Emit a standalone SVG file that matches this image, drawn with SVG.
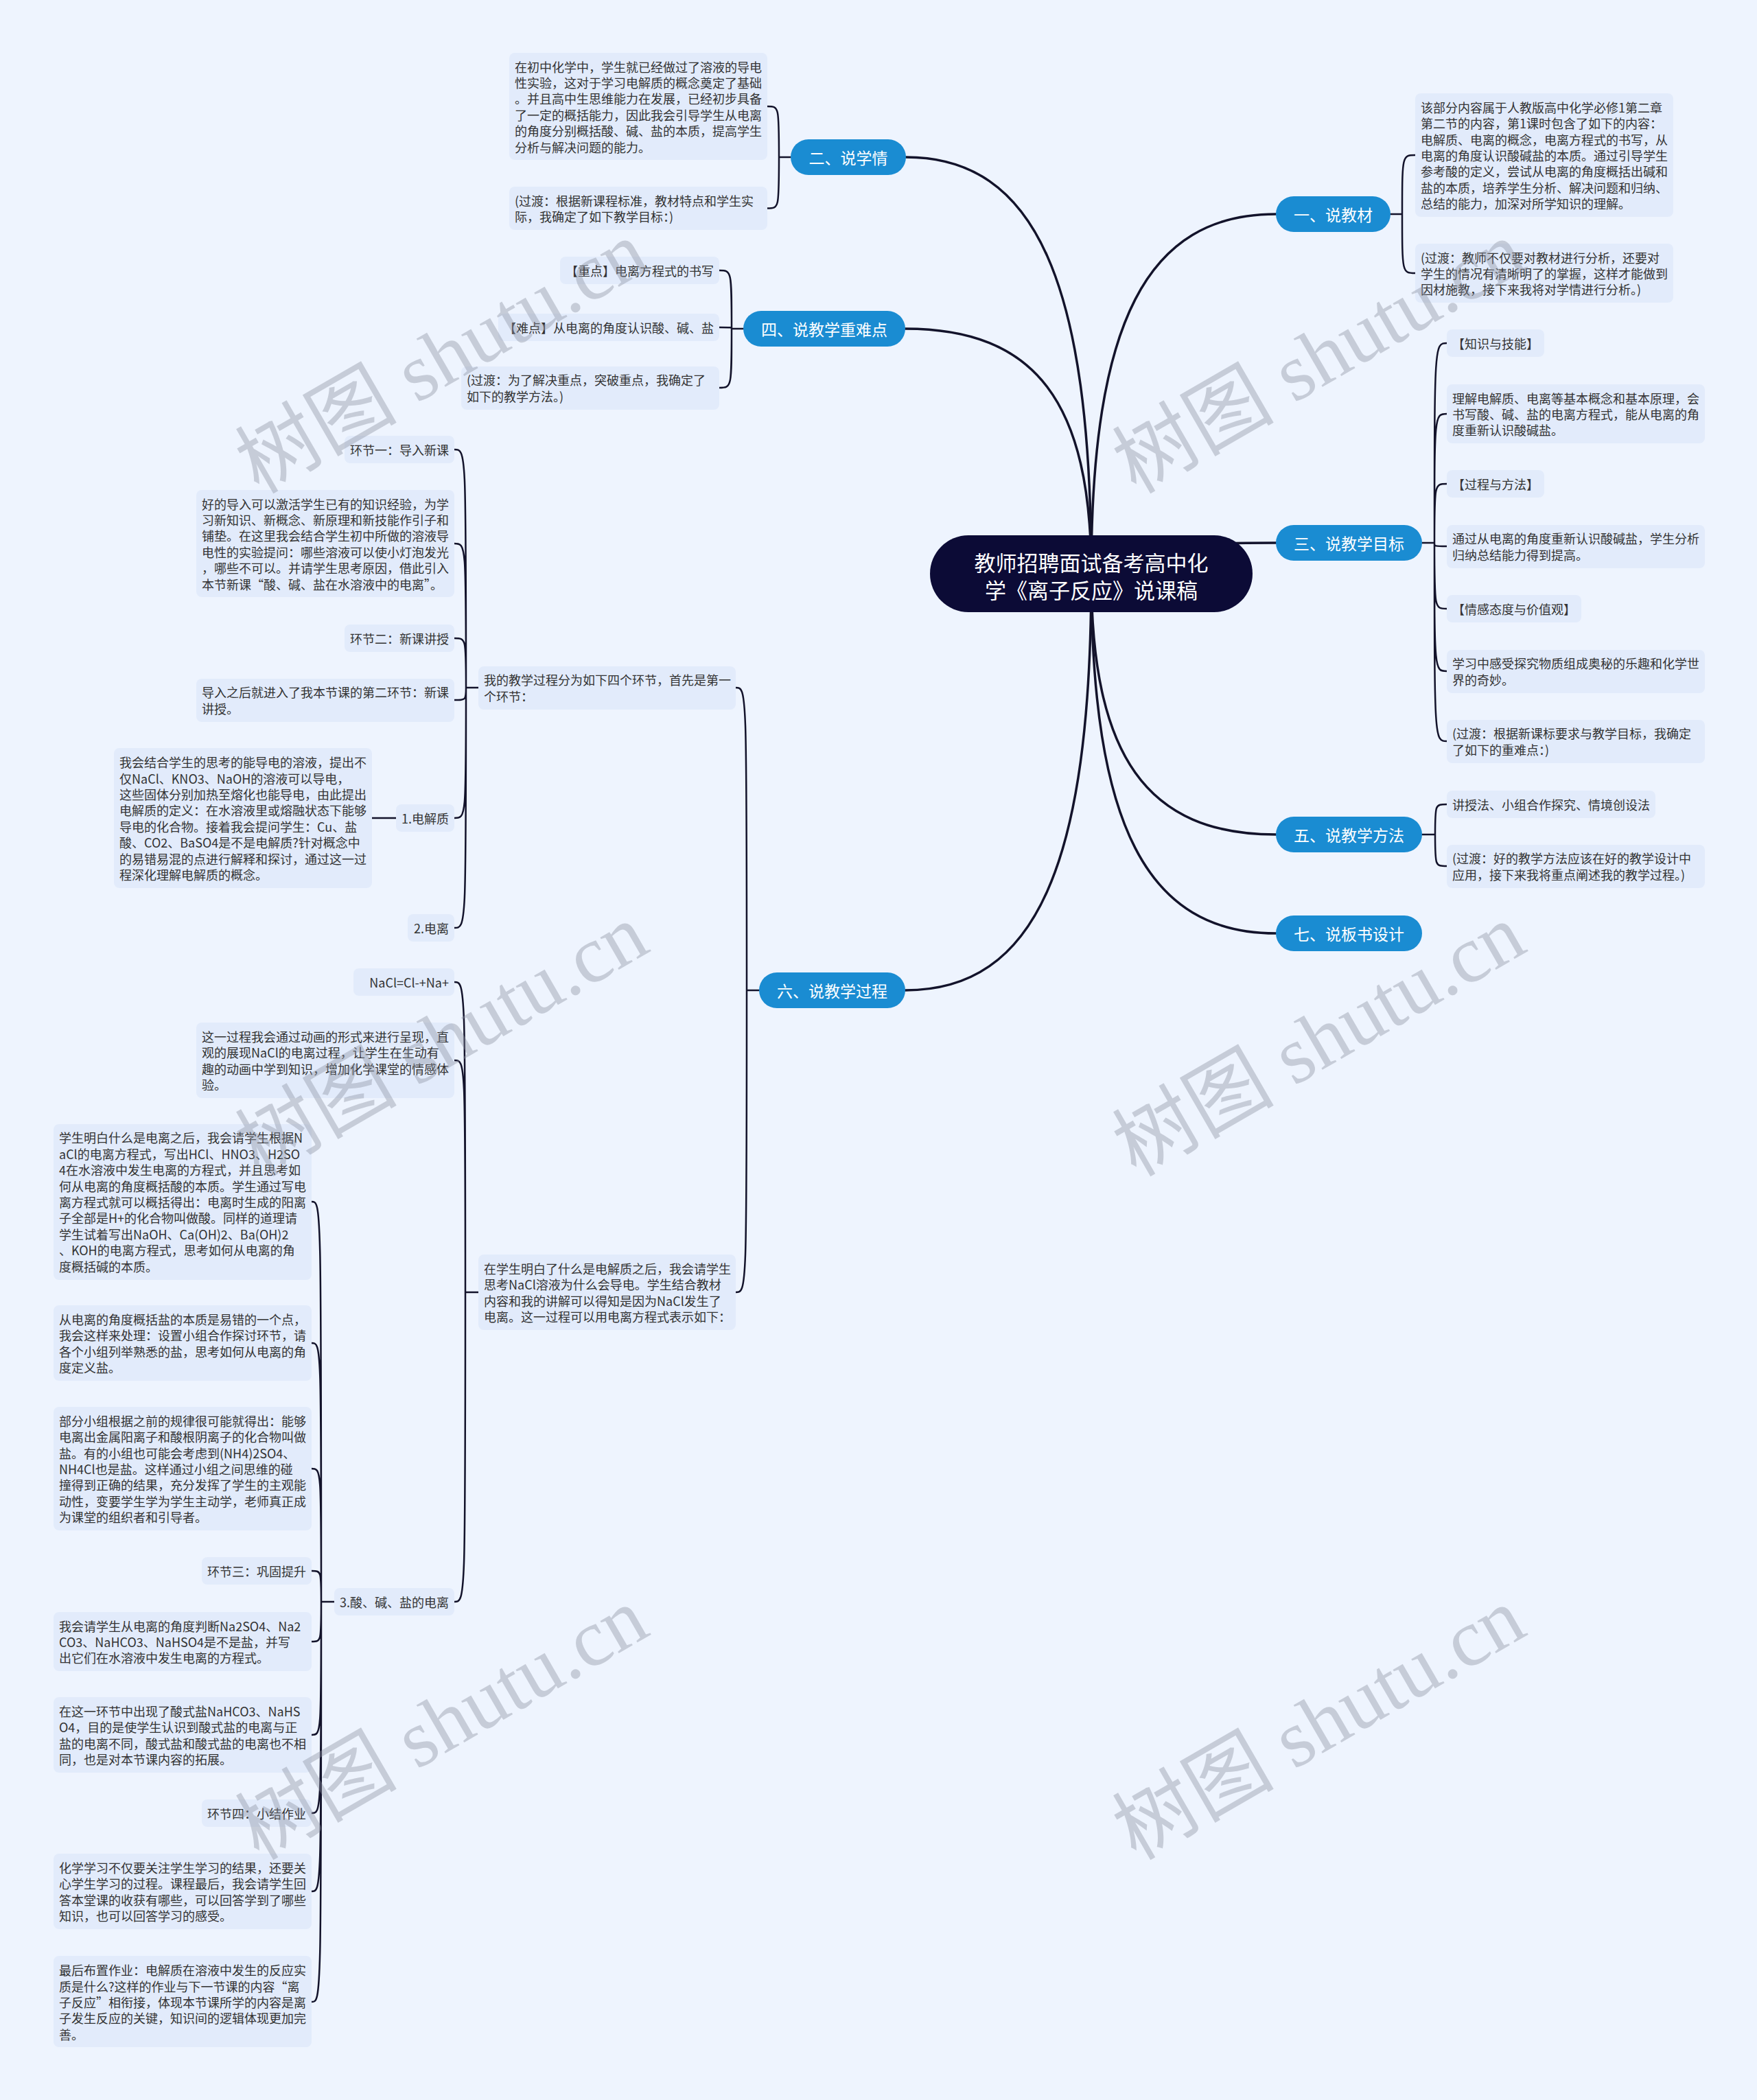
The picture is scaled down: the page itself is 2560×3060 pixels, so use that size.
<svg xmlns="http://www.w3.org/2000/svg" width="2560" height="3060" viewBox="0 0 2560 3060">
<style>
.bg{fill:#eef4fe}
.box{fill:#e2ebfb}
.t{font-family:"Noto Sans CJK SC","Noto Sans",sans-serif;font-size:18px;fill:#333333;dominant-baseline:central}
.e{text-anchor:end}
.pill{fill:#1a8cd2}
.pt{font-family:"Noto Sans CJK SC","Noto Sans",sans-serif;font-size:23px;fill:#ffffff;text-anchor:middle;dominant-baseline:central}
.root{fill:#0c0b36}
.rt{font-family:"Noto Sans CJK SC","Noto Sans",sans-serif;font-size:31px;fill:#ffffff;text-anchor:middle;dominant-baseline:central}
.cr{fill:none;stroke:#13132b;stroke-width:3.5;stroke-linecap:round}
.c{fill:none;stroke:#13132b;stroke-width:2.5;stroke-linecap:round}
.wm{font-family:"Liberation Serif","Noto Sans CJK SC",serif;font-size:118px;fill:#8d93a2;opacity:0.4;text-anchor:middle;dominant-baseline:central}
</style>
<rect class="bg" x="0" y="0" width="2560" height="3060"/>

<g id="connectors">
<path class="cr" d="M1590 836 C1590 469 1671 312 1859 312"/>
<path class="cr" d="M1590 836 C1590 804 1671 791 1859 791"/>
<path class="cr" d="M1590 836 C1590 1102 1671 1216 1859 1216"/>
<path class="cr" d="M1590 836 C1590 1203 1671 1360 1859 1360"/>
<path class="cr" d="M1590 836 C1590 411 1509 229 1320 229"/>
<path class="cr" d="M1590 836 C1590 586 1509 479 1319 479"/>
<path class="cr" d="M1590 836 C1590 1261 1509 1443 1319 1443"/>

<path class="c" d="M2026 312 L2043 312 M2043 312 C2043 226 2043 226 2062 226 M2043 312 C2043 398 2043 398 2062 398"/>
<path class="c" d="M2072 791 L2090 791 M2090 791 C2090 500 2090 500 2108 500 M2090 791 C2090 603 2090 603 2108 603 M2090 791 C2090 705 2090 705 2108 705 M2090 791 C2090 796 2090 796 2108 796 M2090 791 C2090 887 2090 887 2108 887 M2090 791 C2090 978 2090 978 2108 978 M2090 791 C2090 1080 2090 1080 2108 1080"/>
<path class="c" d="M2072 1216 L2091 1216 M2091 1216 C2091 1172 2091 1172 2108 1172 M2091 1216 C2091 1262 2091 1262 2108 1262"/>
<path class="c" d="M1152 229 L1135 229 M1135 229 C1135 155 1135 155 1118 155 M1135 229 C1135 303.5 1135 303.5 1118 303.5"/>
<path class="c" d="M1083 479 L1066 479 M1066 479 C1066 394 1066 394 1048 394 M1066 479 C1066 477 1066 477 1048 477 M1066 479 C1066 565 1066 565 1048 565"/>
<path class="c" d="M1106 1443 L1088 1443 M1088 1443 C1088 1002 1088 1002 1072 1002 M1088 1443 C1088 1883 1088 1883 1072 1883"/>
<path class="c" d="M697 1002 L679 1002 M679 1002 C679 655 679 655 662 655 M679 1002 C679 792 679 792 662 792 M679 1002 C679 930 679 930 662 930 M679 1002 C679 1020 679 1020 662 1020 M679 1002 C679 1192 679 1192 662 1192 M679 1002 C679 1352 679 1352 662 1352"/>
<path class="c" d="M577 1192 L542 1192"/>
<path class="c" d="M697 1883 L678 1883 M678 1883 C678 1431 678 1431 662 1431 M678 1883 C678 1545 678 1545 662 1545 M678 1883 C678 2334 678 2334 662 2334"/>
<path class="c" d="M487 2334 L468 2334 M468 2334 C468 1751 468 1751 454 1751 M468 2334 C468 1957 468 1957 454 1957 M468 2334 C468 2140 468 2140 454 2140 M468 2334 C468 2289 468 2289 454 2289 M468 2334 C468 2392 468 2392 454 2392 M468 2334 C468 2528 468 2528 454 2528 M468 2334 C468 2642 468 2642 454 2642 M468 2334 C468 2756 468 2756 454 2756 M468 2334 C468 2917 468 2917 454 2917"/>
</g>

<g id="root">
<rect class="root" x="1355" y="780" width="470" height="112" rx="56"/>
<text class="rt" x="1590"><tspan x="1590" y="818">教师招聘面试备考高中化</tspan><tspan x="1590" y="858">学《离子反应》说课稿</tspan></text>
</g>

<g id="b1"><rect class="pill" x="1859" y="286" width="167" height="52" rx="26"/><text class="pt" x="1942.5" y="312">一、说教材</text></g>
<g id="b3"><rect class="pill" x="1859" y="765" width="213" height="52" rx="26"/><text class="pt" x="1965.5" y="791">三、说教学目标</text></g>
<g id="b5"><rect class="pill" x="1859" y="1190" width="213" height="52" rx="26"/><text class="pt" x="1965.5" y="1216">五、说教学方法</text></g>
<g id="b7"><rect class="pill" x="1859" y="1334" width="213" height="52" rx="26"/><text class="pt" x="1965.5" y="1360">七、说板书设计</text></g>
<g id="b2"><rect class="pill" x="1152" y="203" width="168" height="52" rx="26"/><text class="pt" x="1236" y="229">二、说学情</text></g>
<g id="b4"><rect class="pill" x="1083" y="453" width="236" height="52" rx="26"/><text class="pt" x="1201" y="479">四、说教学重难点</text></g>
<g id="b6"><rect class="pill" x="1106" y="1417" width="213" height="52" rx="26"/><text class="pt" x="1212.5" y="1443">六、说教学过程</text></g>

<g id="n1a"><rect class="box" x="2062" y="136" width="376" height="180" rx="8"/>
<text class="t"><tspan x="2070" y="155.8">该部分内容属于人教版高中化学必修1第二章</tspan><tspan x="2070" y="179.2">第二节的内容，第1课时包含了如下的内容：</tspan><tspan x="2070" y="202.6">电解质、电离的概念，电离方程式的书写，从</tspan><tspan x="2070" y="226">电离的角度认识酸碱盐的本质。通过引导学生</tspan><tspan x="2070" y="249.4">参考酸的定义，尝试从电离的角度概括出碱和</tspan><tspan x="2070" y="272.8">盐的本质，培养学生分析、解决问题和归纳、</tspan><tspan x="2070" y="296.2">总结的能力，加深对所学知识的理解。</tspan></text></g>
<g id="n1b"><rect class="box" x="2062" y="355" width="376" height="86" rx="8"/>
<text class="t"><tspan x="2070" y="374.6">(过渡：教师不仅要对教材进行分析，还要对</tspan><tspan x="2070" y="398">学生的情况有清晰明了的掌握，这样才能做到</tspan><tspan x="2070" y="421.4">因材施教，接下来我将对学情进行分析。)</tspan></text></g>

<g id="n3a"><rect class="box" x="2108" y="480" width="142" height="40" rx="8"/><text class="t" x="2116" y="500">【知识与技能】</text></g>
<g id="n3b"><rect class="box" x="2108" y="560" width="376" height="86" rx="8"/>
<text class="t"><tspan x="2116" y="579.6">理解电解质、电离等基本概念和基本原理，会</tspan><tspan x="2116" y="603">书写酸、碱、盐的电离方程式，能从电离的角</tspan><tspan x="2116" y="626.4">度重新认识酸碱盐。</tspan></text></g>
<g id="n3c"><rect class="box" x="2108" y="685" width="142" height="40" rx="8"/><text class="t" x="2116" y="705">【过程与方法】</text></g>
<g id="n3d"><rect class="box" x="2108" y="765" width="376" height="63" rx="8"/>
<text class="t"><tspan x="2116" y="784.3">通过从电离的角度重新认识酸碱盐，学生分析</tspan><tspan x="2116" y="807.7">归纳总结能力得到提高。</tspan></text></g>
<g id="n3e"><rect class="box" x="2108" y="867" width="196" height="40" rx="8"/><text class="t" x="2116" y="887">【情感态度与价值观】</text></g>
<g id="n3f"><rect class="box" x="2108" y="947" width="376" height="63" rx="8"/>
<text class="t"><tspan x="2116" y="966.3">学习中感受探究物质组成奥秘的乐趣和化学世</tspan><tspan x="2116" y="989.7">界的奇妙。</tspan></text></g>
<g id="n3g"><rect class="box" x="2108" y="1049" width="376" height="63" rx="8"/>
<text class="t"><tspan x="2116" y="1068.3">(过渡：根据新课标要求与教学目标，我确定</tspan><tspan x="2116" y="1091.7">了如下的重难点：)</tspan></text></g>

<g id="n5a"><rect class="box" x="2108" y="1152" width="304" height="40" rx="8"/><text class="t" x="2116" y="1172">讲授法、小组合作探究、情境创设法</text></g>
<g id="n5b"><rect class="box" x="2108" y="1231" width="376" height="63" rx="8"/>
<text class="t"><tspan x="2116" y="1250.3">(过渡：好的教学方法应该在好的教学设计中</tspan><tspan x="2116" y="1273.7">应用，接下来我将重点阐述我的教学过程。)</tspan></text></g>

<g id="n2a"><rect class="box" x="742" y="77" width="376" height="156" rx="8"/>
<text class="t"><tspan x="750" y="96.5">在初中化学中，学生就已经做过了溶液的导电</tspan><tspan x="750" y="119.9">性实验，这对于学习电解质的概念奠定了基础</tspan><tspan x="750" y="143.3">。并且高中生思维能力在发展，已经初步具备</tspan><tspan x="750" y="166.7">了一定的概括能力，因此我会引导学生从电离</tspan><tspan x="750" y="190.1">的角度分别概括酸、碱、盐的本质，提高学生</tspan><tspan x="750" y="213.5">分析与解决问题的能力。</tspan></text></g>
<g id="n2b"><rect class="box" x="742" y="272" width="376" height="63" rx="8"/>
<text class="t"><tspan x="750" y="291.8">(过渡：根据新课程标准，教材特点和学生实</tspan><tspan x="750" y="315.2">际，我确定了如下教学目标：)</tspan></text></g>

<g id="n4a"><rect class="box" x="816" y="374" width="232" height="40" rx="8"/><text class="t e" x="1040" y="394">【重点】电离方程式的书写</text></g>
<g id="n4b"><rect class="box" x="726" y="457" width="322" height="40" rx="8"/><text class="t e" x="1040" y="477">【难点】从电离的角度认识酸、碱、盐</text></g>
<g id="n4c"><rect class="box" x="672" y="534" width="376" height="63" rx="8"/>
<text class="t"><tspan x="680" y="553.3">(过渡：为了解决重点，突破重点，我确定了</tspan><tspan x="680" y="576.7">如下的教学方法。)</tspan></text></g>

<g id="n6a"><rect class="box" x="697" y="971" width="375" height="63" rx="8"/>
<text class="t"><tspan x="705" y="990.3">我的教学过程分为如下四个环节，首先是第一</tspan><tspan x="705" y="1013.7">个环节：</tspan></text></g>
<g id="n6a1"><rect class="box" x="502" y="635" width="160" height="40" rx="8"/><text class="t e" x="654" y="655">环节一：导入新课</text></g>
<g id="n6a2"><rect class="box" x="286" y="714" width="376" height="156" rx="8"/>
<text class="t"><tspan x="294" y="733.5">好的导入可以激活学生已有的知识经验，为学</tspan><tspan x="294" y="756.9">习新知识、新概念、新原理和新技能作引子和</tspan><tspan x="294" y="780.3">铺垫。在这里我会结合学生初中所做的溶液导</tspan><tspan x="294" y="803.7">电性的实验提问：哪些溶液可以使小灯泡发光</tspan><tspan x="294" y="827.1">，哪些不可以。并请学生思考原因，借此引入</tspan><tspan x="294" y="850.5">本节新课“酸、碱、盐在水溶液中的电离”。</tspan></text></g>
<g id="n6a3"><rect class="box" x="502" y="910" width="160" height="40" rx="8"/><text class="t e" x="654" y="930">环节二：新课讲授</text></g>
<g id="n6a4"><rect class="box" x="286" y="989" width="376" height="63" rx="8"/>
<text class="t"><tspan x="294" y="1008.3">导入之后就进入了我本节课的第二环节：新课</tspan><tspan x="294" y="1031.7">讲授。</tspan></text></g>
<g id="n6a5"><rect class="box" x="577" y="1172" width="85" height="40" rx="8"/><text class="t e" x="654" y="1192">1.电解质</text></g>
<g id="n6a5a"><rect class="box" x="166" y="1090" width="376" height="204" rx="8"/>
<text class="t"><tspan x="174" y="1110.1">我会结合学生的思考的能导电的溶液，提出不</tspan><tspan x="174" y="1133.5">仅NaCl、KNO3、NaOH的溶液可以导电，</tspan><tspan x="174" y="1156.9">这些固体分别加热至熔化也能导电，由此提出</tspan><tspan x="174" y="1180.3">电解质的定义：在水溶液里或熔融状态下能够</tspan><tspan x="174" y="1203.7">导电的化合物。接着我会提问学生：Cu、盐</tspan><tspan x="174" y="1227.1">酸、CO2、BaSO4是不是电解质?针对概念中</tspan><tspan x="174" y="1250.5">的易错易混的点进行解释和探讨，通过这一过</tspan><tspan x="174" y="1273.9">程深化理解电解质的概念。</tspan></text></g>
<g id="n6a6"><rect class="box" x="594" y="1332" width="68" height="40" rx="8"/><text class="t e" x="654" y="1352">2.电离</text></g>

<g id="n6b"><rect class="box" x="697" y="1828" width="375" height="110" rx="8"/>
<text class="t"><tspan x="705" y="1847.9">在学生明白了什么是电解质之后，我会请学生</tspan><tspan x="705" y="1871.3">思考NaCl溶液为什么会导电。学生结合教材</tspan><tspan x="705" y="1894.7">内容和我的讲解可以得知是因为NaCl发生了</tspan><tspan x="705" y="1918.1">电离。这一过程可以用电离方程式表示如下：</tspan></text></g>
<g id="n6b1"><rect class="box" x="515" y="1411" width="147" height="40" rx="8"/><text class="t e" x="654" y="1431">NaCl=Cl-+Na+</text></g>
<g id="n6b2"><rect class="box" x="286" y="1490" width="376" height="110" rx="8"/>
<text class="t"><tspan x="294" y="1509.9">这一过程我会通过动画的形式来进行呈现，直</tspan><tspan x="294" y="1533.3">观的展现NaCl的电离过程，让学生在生动有</tspan><tspan x="294" y="1556.7">趣的动画中学到知识，增加化学课堂的情感体</tspan><tspan x="294" y="1580.1">验。</tspan></text></g>
<g id="n6b3"><rect class="box" x="487" y="2314" width="175" height="40" rx="8"/><text class="t e" x="654" y="2334">3.酸、碱、盐的电离</text></g>

<g id="n6b3a"><rect class="box" x="78" y="1638" width="376" height="227" rx="8"/>
<text class="t"><tspan x="86" y="1657.4">学生明白什么是电离之后，我会请学生根据N</tspan><tspan x="86" y="1680.8">aCl的电离方程式，写出HCl、HNO3、H2SO</tspan><tspan x="86" y="1704.2">4在水溶液中发生电离的方程式，并且思考如</tspan><tspan x="86" y="1727.6">何从电离的角度概括酸的本质。学生通过写电</tspan><tspan x="86" y="1751">离方程式就可以概括得出：电离时生成的阳离</tspan><tspan x="86" y="1774.4">子全部是H+的化合物叫做酸。同样的道理请</tspan><tspan x="86" y="1797.8">学生试着写出NaOH、Ca(OH)2、Ba(OH)2</tspan><tspan x="86" y="1821.2">、KOH的电离方程式，思考如何从电离的角</tspan><tspan x="86" y="1844.6">度概括碱的本质。</tspan></text></g>
<g id="n6b3b"><rect class="box" x="78" y="1902" width="376" height="110" rx="8"/>
<text class="t"><tspan x="86" y="1921.9">从电离的角度概括盐的本质是易错的一个点，</tspan><tspan x="86" y="1945.3">我会这样来处理：设置小组合作探讨环节，请</tspan><tspan x="86" y="1968.7">各个小组列举熟悉的盐，思考如何从电离的角</tspan><tspan x="86" y="1992.1">度定义盐。</tspan></text></g>
<g id="n6b3c"><rect class="box" x="78" y="2050" width="376" height="180" rx="8"/>
<text class="t"><tspan x="86" y="2069.8">部分小组根据之前的规律很可能就得出：能够</tspan><tspan x="86" y="2093.2">电离出金属阳离子和酸根阴离子的化合物叫做</tspan><tspan x="86" y="2116.6">盐。有的小组也可能会考虑到(NH4)2SO4、</tspan><tspan x="86" y="2140">NH4Cl也是盐。这样通过小组之间思维的碰</tspan><tspan x="86" y="2163.4">撞得到正确的结果，充分发挥了学生的主观能</tspan><tspan x="86" y="2186.8">动性，变要学生学为学生主动学，老师真正成</tspan><tspan x="86" y="2210.2">为课堂的组织者和引导者。</tspan></text></g>
<g id="n6b3d"><rect class="box" x="294" y="2269" width="160" height="40" rx="8"/><text class="t e" x="446" y="2289">环节三：巩固提升</text></g>
<g id="n6b3e"><rect class="box" x="78" y="2349" width="376" height="86" rx="8"/>
<text class="t"><tspan x="86" y="2368.6">我会请学生从电离的角度判断Na2SO4、Na2</tspan><tspan x="86" y="2392">CO3、NaHCO3、NaHSO4是不是盐，并写</tspan><tspan x="86" y="2415.4">出它们在水溶液中发生电离的方程式。</tspan></text></g>
<g id="n6b3f"><rect class="box" x="78" y="2473" width="376" height="110" rx="8"/>
<text class="t"><tspan x="86" y="2492.9">在这一环节中出现了酸式盐NaHCO3、NaHS</tspan><tspan x="86" y="2516.3">O4，目的是使学生认识到酸式盐的电离与正</tspan><tspan x="86" y="2539.7">盐的电离不同，酸式盐和酸式盐的电离也不相</tspan><tspan x="86" y="2563.1">同，也是对本节课内容的拓展。</tspan></text></g>
<g id="n6b3g"><rect class="box" x="294" y="2622" width="160" height="40" rx="8"/><text class="t e" x="446" y="2642">环节四：小结作业</text></g>
<g id="n6b3h"><rect class="box" x="78" y="2701" width="376" height="110" rx="8"/>
<text class="t"><tspan x="86" y="2720.9">化学学习不仅要关注学生学习的结果，还要关</tspan><tspan x="86" y="2744.3">心学生学习的过程。课程最后，我会请学生回</tspan><tspan x="86" y="2767.7">答本堂课的收获有哪些，可以回答学到了哪些</tspan><tspan x="86" y="2791.1">知识，也可以回答学习的感受。</tspan></text></g>
<g id="n6b3i"><rect class="box" x="78" y="2850" width="376" height="133" rx="8"/>
<text class="t"><tspan x="86" y="2870.2">最后布置作业：电解质在溶液中发生的反应实</tspan><tspan x="86" y="2893.6">质是什么?这样的作业与下一节课的内容“离</tspan><tspan x="86" y="2917">子反应”相衔接，体现本节课所学的内容是离</tspan><tspan x="86" y="2940.4">子发生反应的关键，知识间的逻辑体现更加完</tspan><tspan x="86" y="2963.8">善。</tspan></text></g>

<g id="watermarks">
<text class="wm" transform="translate(644 521) rotate(-30)">树图 shutu.cn</text>
<text class="wm" transform="translate(1922 521) rotate(-30)">树图 shutu.cn</text>
<text class="wm" transform="translate(644 1516) rotate(-30)">树图 shutu.cn</text>
<text class="wm" transform="translate(1922 1516) rotate(-30)">树图 shutu.cn</text>
<text class="wm" transform="translate(644 2512) rotate(-30)">树图 shutu.cn</text>
<text class="wm" transform="translate(1922 2512) rotate(-30)">树图 shutu.cn</text>
</g>
</svg>
